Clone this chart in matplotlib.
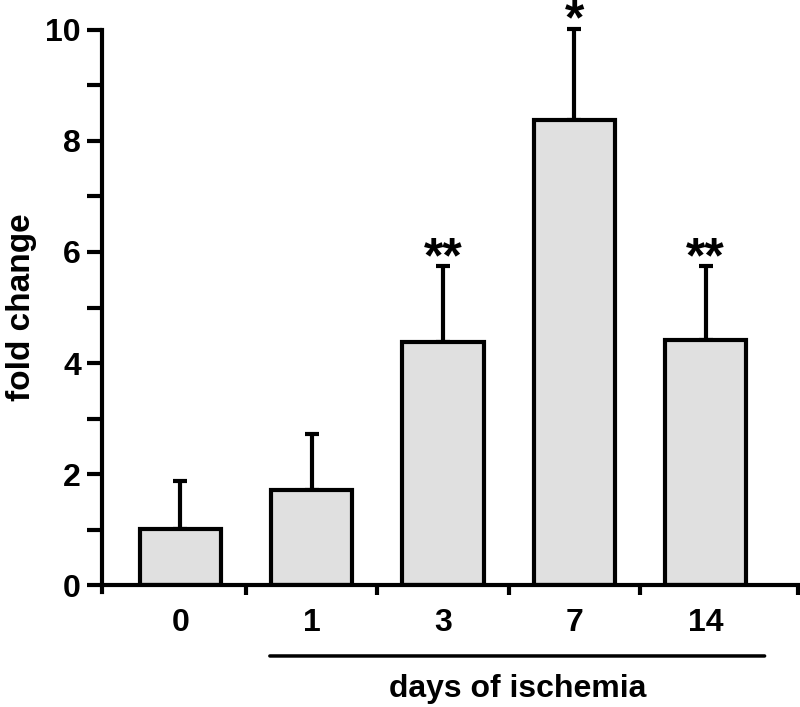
import matplotlib
matplotlib.use("Agg")
import matplotlib.pyplot as plt

# data
days = ["0", "1", "3", "7", "14"]
fold_change = [1.02, 1.72, 4.38, 8.38, 4.42]
sd_upper = [0.86, 1.0, 1.36, 1.64, 1.32]
stars = ["", "", "**", "*", "**"]

plt.rcParams["font.family"] = ["Liberation Sans", "DejaVu Sans"]
plt.rcParams["font.weight"] = "bold"

fig = plt.figure(figsize=(8, 7.07), dpi=100)
ax = fig.add_axes([0.127, 0.172, 0.87, 0.786])

x = list(range(len(days)))
ax.bar(x, fold_change, width=0.62, color="#e0e0e0", edgecolor="black",
       linewidth=3, zorder=2)
ax.errorbar(x, fold_change, yerr=[[0] * len(x), sd_upper], fmt="none",
            ecolor="black", elinewidth=3, capsize=5, capthick=3, zorder=1,
            clip_on=False)

for xi, m, s, st in zip(x, fold_change, sd_upper, stars):
    if st:
        ax.annotate(st, (xi, m + s), xytext=(0, -11.5), textcoords="offset points",
                    ha="center", va="bottom", fontsize=36, fontweight="bold",
                    annotation_clip=False)

ax.set_xlim(-0.6, 4.7)
ax.set_ylim(0, 10)
ax.set_yticks(range(0, 11, 2))
ax.set_yticks(range(1, 10, 2), minor=True)
ax.set_xticks(x)
ax.set_xticklabels(days)
ax.set_xticks([0.5, 1.5, 2.5, 3.5, 4.7], minor=True)
ax.tick_params(axis="x", which="major", length=0, pad=16, labelsize=23)
ax.tick_params(axis="x", which="minor", length=7, width=3)
ax.tick_params(axis="y", which="both", length=11, width=3, labelsize=23, pad=4)

for side in ["top", "right"]:
    ax.spines[side].set_visible(False)
for side in ["left", "bottom"]:
    ax.spines[side].set_linewidth(3)
ax.spines["left"].set_bounds(-0.12, 10)

ax.set_ylabel("fold change", fontsize=24, fontweight="bold", labelpad=6)

# bracket for the ischemia days
ax.annotate("", xy=(0.66, -1.27), xytext=(4.47, -1.27), xycoords="data",
            arrowprops=dict(arrowstyle="-", lw=2.5, color="black"),
            annotation_clip=False)
ax.text(2.57, -1.6, "days of ischemia", ha="center", va="top",
        fontsize=23, fontweight="bold", clip_on=False)

fig.savefig("out.png", dpi=100)
